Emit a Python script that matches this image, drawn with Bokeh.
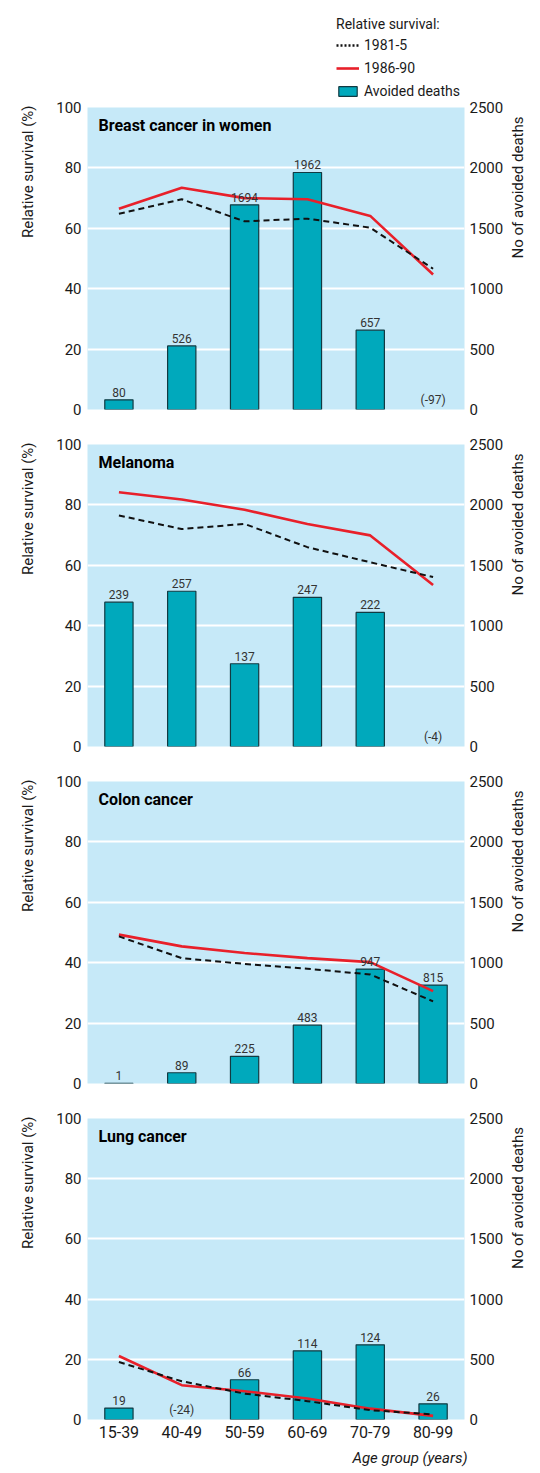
import math
from bokeh.plotting import figure
from bokeh.models import (Range1d, LinearAxis, FixedTicker, FactorRange, ColumnDataSource,
                          Label, LabelSet, Legend, LegendItem, Title)
from bokeh.core.properties import value
from bokeh.layouts import column
from bokeh.embed import file_html
from bokeh.resources import INLINE

# ---------------- data ----------------
ages = ["15-39", "40-49", "50-59", "60-69", "70-79", "80-99"]

breast_8185 = [64.8, 69.6, 62.3, 63.2, 60.2, 46.6]
breast_8690 = [66.5, 73.4, 70.0, 69.6, 64.1, 44.7]
breast_avoided = [80, 526, 1694, 1962, 657, -97]

melanoma_8185 = [76.5, 72.0, 73.7, 66.0, 61.0, 56.1]
melanoma_8690 = [84.2, 81.8, 78.4, 73.7, 69.9, 53.5]
melanoma_avoided = [239, 257, 137, 247, 222, -4]

colon_8185 = [48.7, 41.5, 39.6, 38.0, 36.1, 27.2]
colon_8690 = [49.3, 45.4, 43.2, 41.5, 40.2, 30.6]
colon_avoided = [1, 89, 225, 483, 947, 815]

lung_8185 = [19.1, 12.7, 8.6, 6.1, 3.1, 1.7]
lung_8690 = [21.1, 11.4, 9.4, 7.0, 3.6, 1.2]
lung_avoided = [19, -24, 66, 114, 124, 26]

titles = ["Breast cancer in women", "Melanoma", "Colon cancer", "Lung cancer"]
bar_display_scale = [1, 5, 1, 5]   # melanoma/lung bars are drawn magnified in the original

left_ticks = [0, 20, 40, 60, 80, 100]
right_ticks = [0, 500, 1000, 1500, 2000, 2500]
grid_ticks = [20, 40, 60, 80]

# ---------------- style ----------------
FONT = "Roboto"
BG = "#c6e9f8"
TEAL = "#00a9bc"
BAR_LINE = "#123a42"
RED = "#e8202a"
BLACK = "#111111"
TXT = "#1a1a1a"
NAN = float("nan")

W = 540
FRAME_W = 377
FRAME_H = 302
LEFT = 87
RIGHT = W - LEFT - FRAME_W
PX_PER_CAT = FRAME_W / len(ages)


def xdata(px):
    return px / PX_PER_CAT


def style_axis(ax, size):
    ax.axis_line_color = None
    ax.major_tick_line_color = None
    ax.minor_tick_line_color = None
    ax.major_tick_out = 0
    ax.major_tick_in = 0
    ax.minor_tick_out = 0
    ax.minor_tick_in = 0
    ax.major_label_text_font = FONT
    ax.major_label_text_font_size = size
    ax.major_label_text_color = TXT
    ax.axis_label_text_font = FONT
    ax.axis_label_text_font_size = "15px"
    ax.axis_label_text_font_style = "normal"
    ax.axis_label_text_color = TXT


def make_panel(idx, s8185, s8690, avoided, top_b, bot_b, show_x):
    scale = bar_display_scale[idx]
    p = figure(width=W, height=top_b + FRAME_H + bot_b,
               x_range=FactorRange(*ages), y_range=Range1d(0, 100),
               x_axis_location="below" if show_x else None,
               output_backend="svg", toolbar_location=None,
               min_border_left=LEFT, min_border_right=RIGHT,
               min_border_top=top_b, min_border_bottom=bot_b)
    p.extra_y_ranges = {"deaths": Range1d(0, 2500)}
    p.background_fill_color = BG
    p.border_fill_color = "white"
    p.outline_line_color = None

    lax = p.yaxis[0]
    lax.ticker = FixedTicker(ticks=left_ticks)
    lax.major_label_standoff = 6
    style_axis(lax, "15px")

    rax = LinearAxis(y_range_name="deaths", ticker=FixedTicker(ticks=right_ticks),
                     axis_label="No of avoided deaths")
    rax.major_label_standoff = 5
    rax.axis_label_standoff = 12
    rax.axis_label_orientation = math.pi / 2
    style_axis(rax, "15px")
    p.add_layout(rax, "right")

    p.add_layout(Title(text="Relative survival (%)", align="right", offset=-2, standoff=33,
                       text_font=FONT, text_font_size="15px", text_font_style="normal",
                       text_color=TXT), "left")

    if show_x:
        xa = p.xaxis[0]
        xa.major_label_standoff = 6
        style_axis(xa, "16px")
        p.add_layout(Title(text="Age group (years)", align="right", offset=-3, standoff=12,
                           text_font=FONT, text_font_size="15px", text_font_style="italic",
                           text_color=TXT), "below")

    p.ygrid.ticker = FixedTicker(ticks=grid_ticks)
    p.ygrid.grid_line_color = "white"
    p.ygrid.grid_line_width = 2
    p.xgrid.grid_line_color = None

    bx = [a for a, v in zip(ages, avoided) if v > 0]
    btop = [v * scale for v in avoided if v > 0]
    p.vbar(x=bx, top=btop, bottom=0, width=0.45, y_range_name="deaths",
           fill_color=TEAL, line_color=BAR_LINE, line_width=1.2)

    lab_src = ColumnDataSource(dict(
        x=ages,
        y=[max(v, 0) * scale for v in avoided],
        t=[str(v) if v >= 0 else "(%d)" % v for v in avoided]))
    p.add_layout(LabelSet(x="x", y="y", text="t", source=lab_src, y_range_name="deaths",
                          text_align="center", text_baseline="bottom", y_offset=3,
                          text_font=value(FONT), text_font_size=value("12px"),
                          text_color="#333333"))

    p.line(ages, s8690, line_color=RED, line_width=2.6)
    p.line(ages, s8185, line_color=BLACK, line_width=2, line_dash="6 4")

    p.add_layout(Label(x=xdata(11), y=94, text=titles[idx], text_font=FONT,
                       text_font_style="bold", text_font_size="16px", text_color="black",
                       text_baseline="middle"))
    return p


# ---------------- legend strip ----------------
LEG_H = 98
pl = figure(width=W, height=LEG_H, x_range=Range1d(0, 1), y_range=Range1d(0, 1),
            x_axis_location=None, y_axis_location=None, output_backend="svg",
            toolbar_location=None, min_border_left=LEFT, min_border_right=0,
            min_border_top=0, min_border_bottom=0)
pl.outline_line_color = None
pl.xgrid.visible = False
pl.ygrid.visible = False
pl.background_fill_color = "white"
pl.border_fill_color = "white"
# legend-only renderers (no visible data)
lg_dot = pl.line(x=[NAN], y=[NAN], line_color=BLACK, line_width=2.5, line_dash="2 2")
lg_red = pl.line(x=[NAN], y=[NAN], line_color=RED, line_width=2.6)
lg_bar = pl.vbar(x=[NAN], top=[NAN], width=0.5, fill_color=TEAL, line_color=BAR_LINE,
                 line_width=1.2)
legend = Legend(items=[LegendItem(label="1981-5", renderers=[lg_dot]),
                       LegendItem(label="1986-90", renderers=[lg_red]),
                       LegendItem(label="Avoided deaths", renderers=[lg_bar])],
                title="Relative survival:", location=(249, -3),
                margin=0, padding=0, spacing=3, glyph_width=23, glyph_height=12,
                label_height=20, label_standoff=5, title_standoff=3,
                border_line_color=None, background_fill_alpha=0,
                label_text_font=FONT, label_text_font_size="14px", label_text_color=TXT,
                title_text_font=FONT, title_text_font_size="14px",
                title_text_font_style="normal", title_text_color=TXT)
pl.add_layout(legend)

p1 = make_panel(0, breast_8185, breast_8690, breast_avoided, 9, 17, False)
p2 = make_panel(1, melanoma_8185, melanoma_8690, melanoma_avoided, 18, 17, False)
p3 = make_panel(2, colon_8185, colon_8690, colon_avoided, 18, 17, False)
p4 = make_panel(3, lung_8185, lung_8690, lung_avoided, 18, 52, True)

layout = column(pl, p1, p2, p3, p4)
open("out.html", "w").write(file_html(layout, INLINE))
